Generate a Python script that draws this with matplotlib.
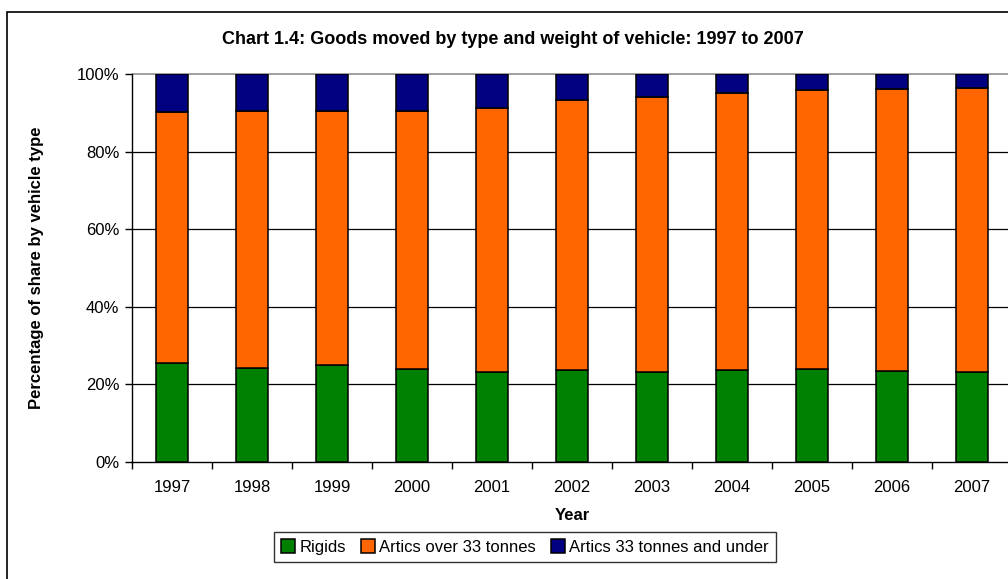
import matplotlib
matplotlib.use("Agg")
import matplotlib.pyplot as plt
from matplotlib.patches import Rectangle
import numpy as np

years = ["1997", "1998", "1999", "2000", "2001", "2002", "2003", "2004", "2005", "2006", "2007"]
rigids = [25.6, 24.1, 24.9, 23.9, 23.1, 23.8, 23.2, 23.6, 24.0, 23.4, 23.3]
artics_over_33 = [64.5, 66.3, 65.6, 66.6, 68.1, 69.4, 70.9, 71.6, 71.9, 72.7, 73.1]
artics_33_under = [100 - r - a for r, a in zip(rigids, artics_over_33)]

series_names = ["Rigids", "Artics over 33 tonnes", "Artics 33 tonnes and under"]
colors = ["#008000", "#FF6600", "#000080"]

plt.rcParams['font.family'] = ['Liberation Sans', 'DejaVu Sans']

W, H = 1008, 579
fig = plt.figure(figsize=(W / 100, H / 100), dpi=100)
fig.patches.append(Rectangle((7 / W, -0.05), 1.1, 1 - 12 / H + 0.05, transform=fig.transFigure,
                             fill=False, edgecolor="black", linewidth=1.2))

x0, x1 = 132, 1012
y0, y1 = 462, 74
ax = fig.add_axes([x0 / W, 1 - y0 / H, (x1 - x0) / W, (y0 - y1) / H])

x = np.arange(len(years))
bottom = np.zeros(len(years))
for vals, c, name in zip([rigids, artics_over_33, artics_33_under], colors, series_names):
    ax.bar(x, vals, width=0.41, bottom=bottom, color=c, edgecolor="black", linewidth=1.1,
           label=name, zorder=3)
    bottom += np.array(vals)

ax.set_xlim(-0.5, len(years) - 0.5)
ax.set_ylim(0, 100)
ax.set_yticks([0, 20, 40, 60, 80, 100])
ax.set_yticklabels(["0%", "20%", "40%", "60%", "80%", "100%"], fontsize=12)
ax.set_xticks(x)
ax.set_xticklabels(years, fontsize=12)
ax.set_xticks(np.arange(-0.5, len(years), 1), minor=True)
ax.tick_params(axis="x", which="major", length=0, pad=13)
ax.tick_params(axis="x", which="minor", length=5, direction="out", width=1)
ax.tick_params(axis="y", length=5, direction="out", width=1, pad=4)

ax.hlines([20, 40, 60, 80], -0.5, len(years) - 0.5, color="black", linewidth=0.9, zorder=1)
ax.hlines([100], -0.5, len(years) - 0.5, color="#999999", linewidth=1.3, zorder=1, clip_on=False)
for s in ["top", "right"]:
    ax.spines[s].set_visible(False)
ax.spines["left"].set_linewidth(1.0)
ax.spines["bottom"].set_linewidth(1.0)

ax.set_xlabel("Year", fontsize=12, fontweight="bold", labelpad=9)
ax.set_ylabel("Percentage of share by vehicle type", fontsize=12, fontweight="bold", labelpad=24)

fig.text(513 / W, 1 - 40 / H, "Chart 1.4: Goods moved by type and weight of vehicle: 1997 to 2007",
         ha="center", va="center", fontsize=13, fontweight="bold")

leg = fig.legend(loc="center", bbox_to_anchor=(525 / W, 1 - 547 / H), ncol=3, fontsize=12,
                 frameon=True, fancybox=False, edgecolor="black", handlelength=0.85,
                 handleheight=0.85, handletextpad=0.25, columnspacing=0.9, borderpad=0.45)
leg.get_frame().set_linewidth(1.0)

fig.savefig("out.png", dpi=100)
